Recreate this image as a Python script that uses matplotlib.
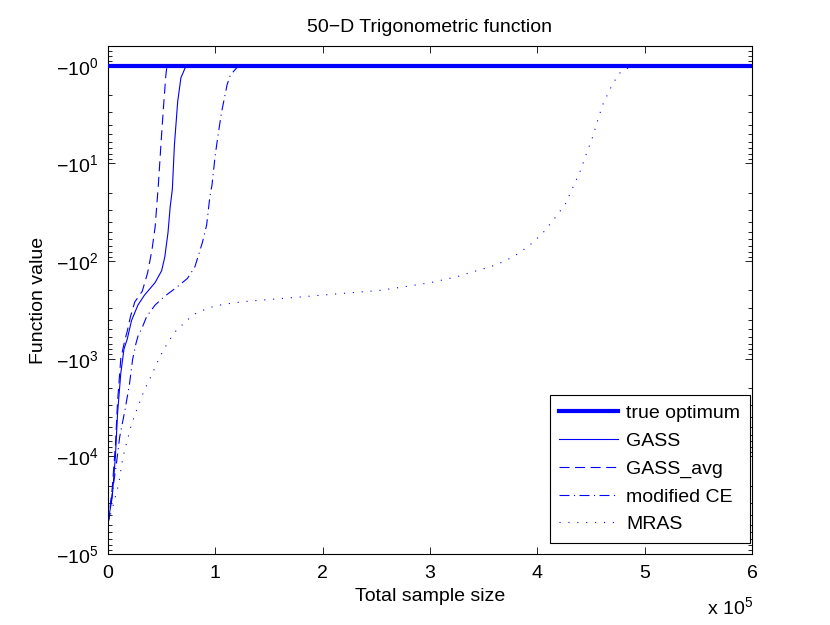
import matplotlib
matplotlib.use("Agg")
import matplotlib.pyplot as plt
import numpy as np

plt.rcParams['font.family'] = ['Liberation Sans', 'DejaVu Sans']
plt.rcParams['mathtext.fontset'] = 'custom'
plt.rcParams['mathtext.rm'] = 'Liberation Sans'
plt.rcParams['mathtext.it'] = 'Liberation Sans:italic'
plt.rcParams['mathtext.bf'] = 'Liberation Sans:bold'

# x in units of 1e5 samples; y = function value
true_x = [0, 6]
true_f = [-1.0, -1.0]

gass_x = [0, 0.04, 0.07, 0.09, 0.12, 0.15, 0.18, 0.22, 0.28, 0.34, 0.44, 0.50,
          0.53, 0.56, 0.58, 0.60, 0.62, 0.65, 0.68, 0.72, 0.75]
gass_f = [-48000, -26300, -10000, -3630, -1410, -794, -631, -407, -282, -224,
          -166, -126, -91, -51, -28, -18.6, -6.4, -2.34, -1.33, -1.05, -1.0]

avg_x = [0, 0.02, 0.04, 0.07, 0.09, 0.12, 0.16, 0.18, 0.21, 0.25, 0.32, 0.37, 0.41,
         0.44, 0.47, 0.50, 0.52, 0.54, 0.55]
avg_f = [-48000, -33100, -21400, -7760, -2750, -1000, -631, -525, -372, -263, -204,
         -132, -77.6, -44.7, -16.6, -5.1, -2.45, -1.25, -1.0]

ce_x = [0, 0.01, 0.04, 0.08, 0.11, 0.16, 0.20, 0.23, 0.26, 0.28, 0.32, 0.36, 0.44,
        0.53, 0.64, 0.74, 0.81, 0.88, 0.92, 0.95, 0.97, 1.00, 1.03, 1.06, 1.11, 1.14,
        1.20, 1.23]
ce_f = [-48000, -44700, -24000, -11700, -6310, -3310, -1860, -1020, -708, -589, -479,
        -372, -282, -229, -186, -151, -115, -64.6, -42.7, -21.9, -16.6, -8.2, -4.8,
        -2.95, -1.57, -1.25, -1.05, -1.0]

mras_x = [0, 0.04, 0.10, 0.14, 0.18, 0.22, 0.28, 0.34, 0.41, 0.48, 0.56, 0.65,
          0.72, 0.78, 0.85, 0.92, 1.0, 1.16, 1.32, 1.56, 1.88, 2.2, 2.53, 2.84, 3.01,
          3.25, 3.40, 3.56, 3.70, 3.83, 3.96, 4.07, 4.17, 4.26, 4.33, 4.40, 4.45, 4.51,
          4.56, 4.61, 4.68, 4.76, 4.83, 4.86]
mras_f = [-48000, -34700, -19100, -10200, -6920, -4680, -3090, -2090, -1450, -977,
          -676, -490, -427, -363, -331, -309, -288, -269, -257, -245, -229, -214, -200,
          -178, -166, -145, -129, -115, -100, -83, -64.6, -49, -35.5, -26.3, -17.8, -12,
          -8.4, -5.6, -3.7, -2.5, -1.72, -1.2, -1.1, -1.0]

labels = ['true optimum', 'GASS', 'GASS_avg', 'modified CE', 'MRAS']
xticks = [0, 1, 2, 3, 4, 5, 6]
ydecades = [0, 1, 2, 3, 4, 5]

fig = plt.figure(figsize=(8.3, 6.25), dpi=100)
ax = fig.add_axes([0.130, 0.1136, 0.776, 0.8125])

blue = (0, 0, 1)
mag = lambda f: -np.asarray(f, dtype=float)

ax.plot(true_x, mag(true_f), color=blue, lw=3.0, label=labels[0], zorder=5)
ax.plot(gass_x, mag(gass_f), color=blue, lw=0.8, ls='-', label=labels[1])
ax.plot(avg_x, mag(avg_f), color=blue, lw=0.8, ls=(0, (9, 5)), label=labels[2])
ax.plot(ce_x, mag(ce_f), color=blue, lw=0.8, ls=(0, (9, 4, 1, 4)), label=labels[3])
ax.plot(mras_x, mag(mras_f), color=blue, lw=0.8, ls=(0, (1, 7)), label=labels[4])

ax.set_yscale('log')
ax.set_ylim(1e5, 10 ** -0.2)
ax.set_xlim(0, 6)
ax.set_xticks(xticks)
ax.set_xticklabels([str(t) for t in xticks])
ax.set_yticks([10.0 ** d for d in ydecades])
ax.set_yticklabels([r'$-10^{%d}$' % d for d in ydecades])

ax.tick_params(which='both', direction='in', top=True, right=True, labelsize=14)
ax.tick_params(which='major', length=5, width=0.6)
ax.tick_params(which='minor', length=3, width=0.6)
ax.tick_params(axis='x', which='minor', bottom=False, top=False)
ax.tick_params(axis='x', pad=8)
ax.tick_params(axis='y', pad=7)
for s in ax.spines.values():
    s.set_linewidth(0.8)

ax.set_title('50\u2212D Trigonometric function', fontsize=14, pad=10.5)
ax.set_xlabel('Total sample size', fontsize=14, labelpad=4.5)
ax.set_ylabel('Function value', fontsize=14, labelpad=6)
fig.text(753 / 830, 1 - 614 / 625, r'x 10$^{5}$', fontsize=14, ha='right', va='baseline')

leg = ax.legend(loc='lower right', bbox_to_anchor=(0.997, 0.0217), borderaxespad=0,
                fancybox=False, framealpha=1, edgecolor='black', fontsize=14,
                handlelength=3.0, handletextpad=0.45, labelspacing=0.52,
                borderpad=0.5)
leg.get_frame().set_linewidth(0.8)

fig.savefig('out.png', dpi=100)
